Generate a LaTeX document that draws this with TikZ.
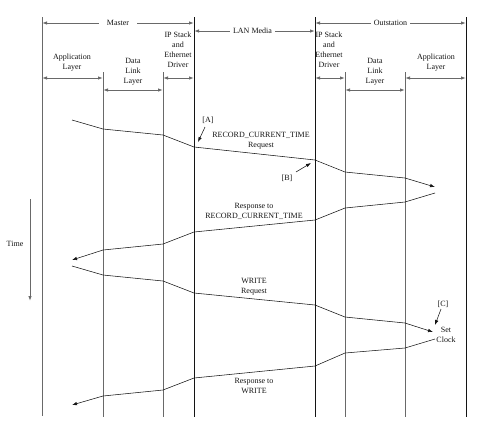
\documentclass[tikz,border=0pt]{standalone}
\usepackage{fontspec}
\setmainfont{Liberation Serif}
\usetikzlibrary{positioning,arrows.meta}
\definecolor{ink}{RGB}{20,20,20}
\definecolor{gray60}{RGB}{105,105,105}
\tikzset{
  life/.style={draw=gray60, line width=0.9pt},
  edge/.style={draw=ink, line width=0.9pt},
  span/.style={{Latex[length=5pt,width=3.5pt]}-{Latex[length=5pt,width=3.5pt]}, draw=gray60, line width=0.9pt},
  msg/.style={draw=ink, line width=0.55pt},
  tip/.style={-{Latex[length=5pt,width=3.5pt]}, draw=ink, line width=0.55pt},
  lbl/.style={font=\fontsize{8}{10}\selectfont, align=center, inner sep=0pt, text=ink},
  gap/.style={lbl, fill=white, inner xsep=3pt, inner ysep=1pt},
}
\begin{document}
\begin{tikzpicture}[x=1pt,y=-1pt]
  \useasboundingbox (0,0) rectangle (478,426);

  % lifelines
  \coordinate (mApp) at (42,17);
  \coordinate (mDl)  at (103,72);
  \coordinate (mIp)  at (163,72);
  \coordinate (lanL) at (194,17);
  \coordinate (lanR) at (315,17);
  \coordinate (oDl)  at (345,72);
  \coordinate (oApp) at (405,72);
  \coordinate (oEnd) at (466,17);
  \draw[life] (mApp) -- (42,416);
  \draw[life] (mDl)  -- (103,417);
  \draw[life] (mIp)  -- (163,417);
  \draw[edge] (lanL) -- (194,417);
  \draw[edge] (lanR) -- (315,417);
  \draw[life] (oDl)  -- (345,417);
  \draw[life] (oApp) -- (405,417);
  \draw[edge] (oEnd) -- (466,417);

  % spans
  \draw[span] (42,23) -- node[gap, inner xsep=8pt] (master) {Master} (194,23);
  \draw[span] (315,23) -- node[gap] (outst) {Outstation} (466,23);
  \draw[span] (194,31) -- node[gap, xshift=-2pt] (lan) {LAN Media} (315,31);
  \draw[span] (42,78)  -- (103,78);
  \draw[span] (103,90) -- (163,90);
  \draw[span] (163,78) -- (194,78);
  \draw[span] (315,78) -- (345,78);
  \draw[span] (345,90) -- (405,90);
  \draw[span] (405,78) -- (466,78);

  \node[lbl] (appM) at (72,63)  {Application\\Layer};
  \node[lbl] (dlM)  at (133,72) {Data\\Link\\Layer};
  \node[lbl] (ipM)  at (178,50) {IP Stack\\and\\Ethernet\\Driver};
  \node[lbl] (ipO)  at (329,50) {IP Stack\\and\\Ethernet\\Driver};
  \node[lbl] (dlO)  at (375,72) {Data\\Link\\Layer};
  \node[lbl] (appO) at (436,63) {Application\\Layer};

  % time axis
  \node[lbl] (time) at (15,244) {Time};
  \coordinate (t0) at (30,199);
  \coordinate (t1) at (30,301);
  \draw[tip, draw=gray60, line width=0.9pt] (t0) -- (t1);

  % RECORD_CURRENT_TIME request
  \coordinate (q1s) at (72,120);
  \coordinate (q1e) at (435,187);
  \draw[msg, -{Latex[length=5pt,width=3.5pt]}] (q1s) -- (103,129) -- (163,135) -- (194,147)
    -- (315,160) -- (345,172) -- (405,178) -- (q1e);
  \node[lbl] (req1) at (261,141) {RECORD\_CURRENT\_TIME\\Request};
  \node[lbl] (markA) at (208,120) {[A]};
  \coordinate (pA) at (198,142);
  \draw[tip] (205,127) -- (pA);
  \node[lbl] (markB) at (287,178) {[B]};
  \coordinate (pB) at (311,163);
  \draw[tip] (296,172) -- (pB);

  % response
  \coordinate (r1s) at (435,193);
  \coordinate (r1e) at (72,260);
  \draw[msg, -{Latex[length=5pt,width=3.5pt]}] (r1s) -- (405,202) -- (345,208) -- (315,220)
    -- (194,232) -- (163,244) -- (103,250) -- (r1e);
  \node[lbl] (rsp1) at (254,211) {Response to\\RECORD\_CURRENT\_TIME};

  % WRITE request
  \coordinate (q2s) at (72,266);
  \coordinate (q2e) at (433,332);
  \draw[msg, -{Latex[length=5pt,width=3.5pt]}] (q2s) -- (103,275) -- (163,281) -- (194,293)
    -- (315,305) -- (345,317) -- (405,323) -- (q2e);
  \node[lbl] (req2) at (254,287) {WRITE\\Request};
  \node[lbl] (markC) at (443,304) {[C]};
  \coordinate (pC) at (435,325);
  \draw[tip] (441,309) -- (pC);
  \node[lbl] (clock) at (446,335) {Set\\Clock};

  % response to WRITE
  \coordinate (r2s) at (435,339);
  \coordinate (r2e) at (72,405);
  \draw[msg, -{Latex[length=5pt,width=3.5pt]}] (r2s) -- (405,348) -- (345,353) -- (315,366)
    -- (194,378) -- (163,390) -- (103,396) -- (r2e);
  \node[lbl] (rsp2) at (254,386) {Response to\\WRITE};
\end{tikzpicture}
\end{document}
